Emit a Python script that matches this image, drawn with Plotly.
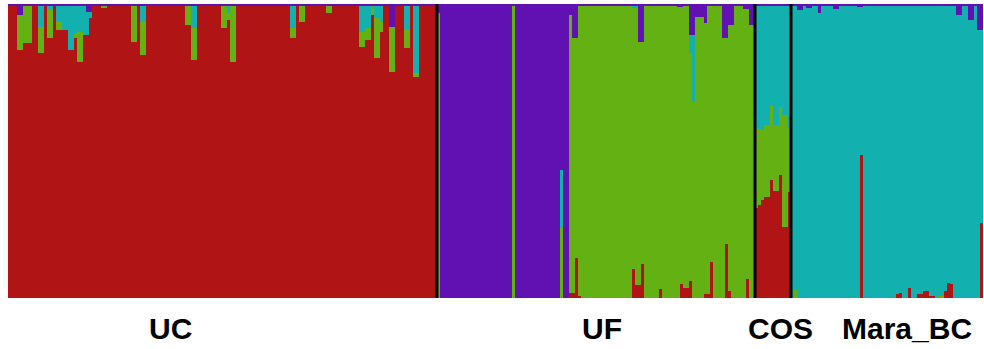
import plotly.graph_objects as go

# ---------------- data ----------------
groups = ["UC", "UF", "COS", "Mara_BC"]
group_sizes = [143, 106, 12, 64]
cluster_names = ["Cluster 1", "Cluster 2", "Cluster 3", "Cluster 4"]  # red, green, cyan, purple
cluster_colors = ["#B11414", "#64B113", "#13B0B0", "#6111B2"]

# UC: default profile (red, green, cyan, purple) and individual exceptions
uc_default = (0.995, 0.0, 0.0, 0.005)
uc_exceptions = {
    3: (0.844, 0.119, 0.0, 0.037), 4: (0.844, 0.119, 0.0, 0.037),
    5: (0.867, 0.128, 0.0, 0.005), 6: (0.867, 0.128, 0.0, 0.005), 7: (0.867, 0.128, 0.0, 0.005),
    10: (0.834, 0.088, 0.073, 0.005), 11: (0.834, 0.088, 0.073, 0.005),
    13: (0.885, 0.095, 0.015, 0.005), 14: (0.885, 0.095, 0.015, 0.005),
    16: (0.912, 0.027, 0.056, 0.005), 17: (0.912, 0.027, 0.056, 0.005),
    18: (0.912, 0.0, 0.083, 0.005), 19: (0.912, 0.0, 0.083, 0.005),
    20: (0.844, 0.0, 0.151, 0.005), 21: (0.844, 0.0, 0.151, 0.005),
    22: (0.884, 0.017, 0.094, 0.005),
    23: (0.803, 0.102, 0.090, 0.005), 24: (0.803, 0.102, 0.090, 0.005),
    25: (0.895, 0.0, 0.100, 0.005),
    26: (0.895, 0.0, 0.078, 0.027), 27: (0.953, 0.0, 0.020, 0.027),
    31: (0.988, 0.007, 0.0, 0.005), 32: (0.988, 0.007, 0.0, 0.005),
    41: (0.871, 0.124, 0.0, 0.005), 42: (0.871, 0.124, 0.0, 0.005),
    44: (0.827, 0.112, 0.056, 0.005), 45: (0.827, 0.112, 0.056, 0.005),
    59: (0.929, 0.066, 0.0, 0.005), 60: (0.929, 0.066, 0.0, 0.005),
    61: (0.809, 0.109, 0.077, 0.005), 62: (0.809, 0.109, 0.077, 0.005),
    71: (0.918, 0.077, 0.0, 0.005), 72: (0.918, 0.077, 0.0, 0.005),
    73: (0.945, 0.024, 0.026, 0.005),
    74: (0.803, 0.192, 0.0, 0.005), 75: (0.803, 0.192, 0.0, 0.005),
    94: (0.884, 0.034, 0.077, 0.005), 95: (0.884, 0.034, 0.077, 0.005),
    97: (0.939, 0.056, 0.0, 0.005), 98: (0.939, 0.056, 0.0, 0.005),
    106: (0.969, 0.026, 0.0, 0.005), 107: (0.969, 0.026, 0.0, 0.005),
    117: (0.854, 0.051, 0.090, 0.005), 118: (0.854, 0.051, 0.090, 0.005),
    119: (0.877, 0.041, 0.077, 0.005), 120: (0.877, 0.041, 0.077, 0.005),
    121: (0.963, 0.032, 0.0, 0.005),
    122: (0.816, 0.136, 0.043, 0.005), 123: (0.816, 0.136, 0.043, 0.005),
    124: (0.905, 0.034, 0.056, 0.005),
    127: (0.769, 0.153, 0.0, 0.078), 128: (0.769, 0.153, 0.0, 0.078),
    132: (0.851, 0.061, 0.083, 0.005), 133: (0.851, 0.061, 0.083, 0.005),
    135: (0.751, 0.014, 0.230, 0.005), 136: (0.751, 0.014, 0.230, 0.005),
}

# UF: two blocks (purple-dominated, then green-dominated) plus exceptions
uf_blocks = [(44, (0.0, 0.0, 0.0, 1.0)), (62, (0.0, 0.995, 0.0, 0.005))]
uf_exceptions = {
    0: (0.0, 0.969, 0.0, 0.031),
    25: (0.0, 0.995, 0.0, 0.005),
    41: (0.0, 0.238, 0.197, 0.565),
    44: (0.017, 0.946, 0.0, 0.037),
    45: (0.017, 0.867, 0.0, 0.116),
    46: (0.136, 0.748, 0.0, 0.116),
    47: (0.007, 0.988, 0.0, 0.005),
    65: (0.099, 0.886, 0.010, 0.005),
    66: (0.044, 0.941, 0.010, 0.005),
    67: (0.044, 0.827, 0.0, 0.129),
    68: (0.116, 0.755, 0.0, 0.129),
    74: (0.031, 0.964, 0.0, 0.005),
    80: (0.0, 0.990, 0.0, 0.010),
    81: (0.048, 0.942, 0.0, 0.010),
    82: (0.034, 0.961, 0.0, 0.005), 83: (0.034, 0.961, 0.0, 0.005),
    84: (0.058, 0.776, 0.061, 0.105),
    85: (0.0, 0.667, 0.228, 0.105),
    86: (0.0, 0.956, 0.0, 0.044), 87: (0.0, 0.956, 0.0, 0.044), 88: (0.0, 0.956, 0.0, 0.044),
    89: (0.014, 0.921, 0.0, 0.065),
    90: (0.014, 0.981, 0.0, 0.005),
    91: (0.122, 0.873, 0.0, 0.005),
    95: (0.0, 0.884, 0.0, 0.116),
    96: (0.184, 0.700, 0.0, 0.116),
    97: (0.024, 0.905, 0.0, 0.071),
    98: (0.0, 0.929, 0.0, 0.071),
    102: (0.0, 0.983, 0.0, 0.017),
    103: (0.065, 0.918, 0.0, 0.017),
    104: (0.0, 0.929, 0.0, 0.071), 105: (0.0, 0.929, 0.0, 0.071),
}

# COS: every individual read individually
cos_red = [0.306, 0.316, 0.333, 0.344, 0.344, 0.401, 0.364, 0.364, 0.418, 0.241, 0.241, 0.361]
cos_green = [0.276, 0.259, 0.238, 0.245, 0.245, 0.255, 0.224, 0.224, 0.231, 0.381, 0.381, 0.221]
cos_cyan = [0.413, 0.420, 0.424, 0.406, 0.406, 0.339, 0.407, 0.407, 0.346, 0.373, 0.373, 0.413]
cos_purple = [0.005, 0.005, 0.005, 0.005, 0.005, 0.005, 0.005, 0.005, 0.005, 0.005, 0.005, 0.005]

# Mara_BC: default profile plus exceptions
mara_default = (0.0, 0.0, 0.995, 0.005)
mara_exceptions = {
    1: (0.0, 0.027, 0.968, 0.005),
    2: (0.0, 0.0, 0.980, 0.020), 3: (0.0, 0.0, 0.980, 0.020),
    5: (0.0, 0.0, 0.986, 0.014), 6: (0.0, 0.0, 0.986, 0.014),
    9: (0.0, 0.0, 0.969, 0.031),
    14: (0.0, 0.0, 0.983, 0.017), 15: (0.0, 0.0, 0.983, 0.017),
    22: (0.0, 0.0, 0.990, 0.010),
    23: (0.486, 0.0, 0.504, 0.010),
    35: (0.014, 0.0, 0.981, 0.005),
    36: (0.017, 0.0, 0.978, 0.005),
    39: (0.034, 0.0, 0.961, 0.005),
    42: (0.014, 0.0, 0.981, 0.005), 43: (0.014, 0.0, 0.981, 0.005),
    44: (0.024, 0.0, 0.971, 0.005), 45: (0.024, 0.0, 0.971, 0.005),
    46: (0.007, 0.0, 0.988, 0.005), 47: (0.007, 0.0, 0.988, 0.005),
    49: (0.0, 0.007, 0.988, 0.005), 50: (0.0, 0.007, 0.988, 0.005),
    51: (0.024, 0.0, 0.971, 0.005),
    52: (0.051, 0.0, 0.944, 0.005),
    53: (0.048, 0.0, 0.947, 0.005),
    55: (0.0, 0.0, 0.963, 0.037), 56: (0.0, 0.0, 0.963, 0.037),
    59: (0.0, 0.0, 0.946, 0.054), 60: (0.0, 0.0, 0.946, 0.054),
    62: (0.0, 0.0, 0.912, 0.088),
    63: (0.255, 0.0, 0.657, 0.088),
}

# ---------------- assemble individuals ----------------
profiles = []
for i in range(group_sizes[0]):
    profiles.append(uc_exceptions.get(i, uc_default))
j = 0
for length, prof in uf_blocks:
    for _ in range(length):
        profiles.append(uf_exceptions.get(j, prof))
        j += 1
for k in range(group_sizes[2]):
    profiles.append((cos_red[k], cos_green[k], cos_cyan[k], cos_purple[k]))
for m in range(group_sizes[3]):
    profiles.append(mara_exceptions.get(m, mara_default))

n_total = len(profiles)
xs = list(range(n_total))

fig = go.Figure()
for c in range(4):
    fig.add_trace(go.Bar(
        x=xs, y=[p[c] for p in profiles], name=cluster_names[c],
        marker=dict(color=cluster_colors[c], line=dict(width=0)),
        width=1.0, showlegend=False, hoverinfo="skip",
    ))

# group separators
shapes = []
edge = -0.5
for size in group_sizes[:-1]:
    edge += size
    shapes.append(dict(type="line", xref="x", yref="y", x0=edge, x1=edge, y0=0, y1=1,
                       line=dict(color="black", width=3)))

# group labels (positions along individual axis)
label_pos = [53.8, 197.5, 257.0, 299.0]
annotations = [
    dict(x=xp, y=-0.103, xref="x", yref="paper", text="<b>%s</b>" % g,
         showarrow=False, xanchor="center", yanchor="middle",
         font=dict(family="Liberation Sans, Arial, sans-serif", size=30, color="black"))
    for g, xp in zip(groups, label_pos)
]

fig.update_layout(
    width=984, height=349,
    margin=dict(l=8, r=1, t=4, b=51),
    barmode="stack", bargap=0,
    paper_bgcolor="white", plot_bgcolor="white",
    xaxis=dict(range=[-0.5, n_total - 0.5], visible=False),
    yaxis=dict(range=[0, 1], visible=False),
    shapes=shapes, annotations=annotations,
)

fig.write_html("out.html")
